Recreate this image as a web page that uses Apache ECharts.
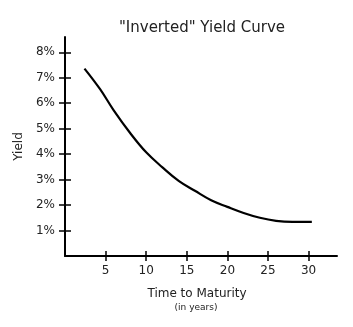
<!DOCTYPE html>
<html>
<head>
<meta charset="utf-8">
<script src="https://cdn.jsdelivr.net/npm/echarts@6/dist/echarts.min.js"></script>
<style>html,body{margin:0;padding:0;background:#fff}#c{width:353px;height:327px}</style>
</head>
<body>
<div id="c"></div>
<script>
var titleText = '"Inverted" Yield Curve';
var xName = 'Time to Maturity';
var xSubName = '(in years)';
var yName = 'Yield';
var maturity = [2.4, 4.3, 6, 8, 10, 12, 14, 16, 18, 20, 22, 24, 26, 28, 30.4];
var yieldPct = [7.36, 6.56, 5.72, 4.84, 4.07, 3.48, 2.95, 2.56, 2.19, 1.93, 1.69, 1.5, 1.38, 1.34, 1.34];
var xTicks = [5, 10, 15, 20, 25, 30];
var yTicks = [1, 2, 3, 4, 5, 6, 7, 8];

var FONT = 'DejaVu Sans';
var chart = echarts.init(document.getElementById('c'), null, {renderer: 'canvas'});
var data = maturity.map(function (m, i) { return [m, yieldPct[i]]; });
var txt = '#222';
chart.setOption({
  animation: false,
  grid: {left: 65, right: 16, top: 37, bottom: 71, containLabel: false},
  graphic: [
    {type: 'text', x: 202, y: 21, style: {text: titleText, font: '15px "' + FONT + '"', fill: txt, textAlign: 'center'}},
    {type: 'text', x: 197, y: 288, style: {text: xName, font: '12px "' + FONT + '"', fill: txt, textAlign: 'center'}},
    {type: 'text', x: 196, y: 303, style: {text: xSubName, font: '9px "' + FONT + '"', fill: txt, textAlign: 'center'}}
  ],
  xAxis: [
    {type: 'value', min: 0, max: 33.5, interval: 5,
     axisLine: {lineStyle: {color: '#000', width: 2}},
     axisTick: {show: true, length: 5, customValues: xTicks, lineStyle: {color: '#000', width: 1.5}},
     axisLabel: {customValues: xTicks, margin: 9, color: txt, fontFamily: FONT, fontSize: 12},
     splitLine: {show: false}},
    {type: 'value', min: 0, max: 33.5, interval: 5, position: 'bottom',
     axisLine: {show: false},
     axisTick: {show: true, inside: true, length: 5, customValues: xTicks, lineStyle: {color: '#000', width: 1.5}},
     axisLabel: {show: false}, splitLine: {show: false}}
  ],
  yAxis: [
    {type: 'value', min: 0, max: 8.6, interval: 1,
     name: yName, nameLocation: 'middle', nameGap: 37, nameRotate: 90,
     nameTextStyle: {color: txt, fontFamily: FONT, fontSize: 12},
     axisLine: {lineStyle: {color: '#000', width: 2}},
     axisTick: {show: true, length: 6, customValues: yTicks, lineStyle: {color: '#000', width: 1.5}},
     axisLabel: {customValues: yTicks, margin: 10, color: txt, fontFamily: FONT, fontSize: 12,
       formatter: function (v) { return v + '%'; }},
     splitLine: {show: false}},
    {type: 'value', min: 0, max: 8.6, interval: 1, position: 'left',
     axisLine: {show: false},
     axisTick: {show: true, inside: true, length: 6, customValues: yTicks, lineStyle: {color: '#000', width: 1.5}},
     axisLabel: {show: false}, splitLine: {show: false}}
  ],
  series: [{
    type: 'line', data: data, smooth: 0.4, showSymbol: false, symbol: 'none',
    lineStyle: {color: '#000', width: 2.2}
  }]
});
</script>
</body>
</html>
